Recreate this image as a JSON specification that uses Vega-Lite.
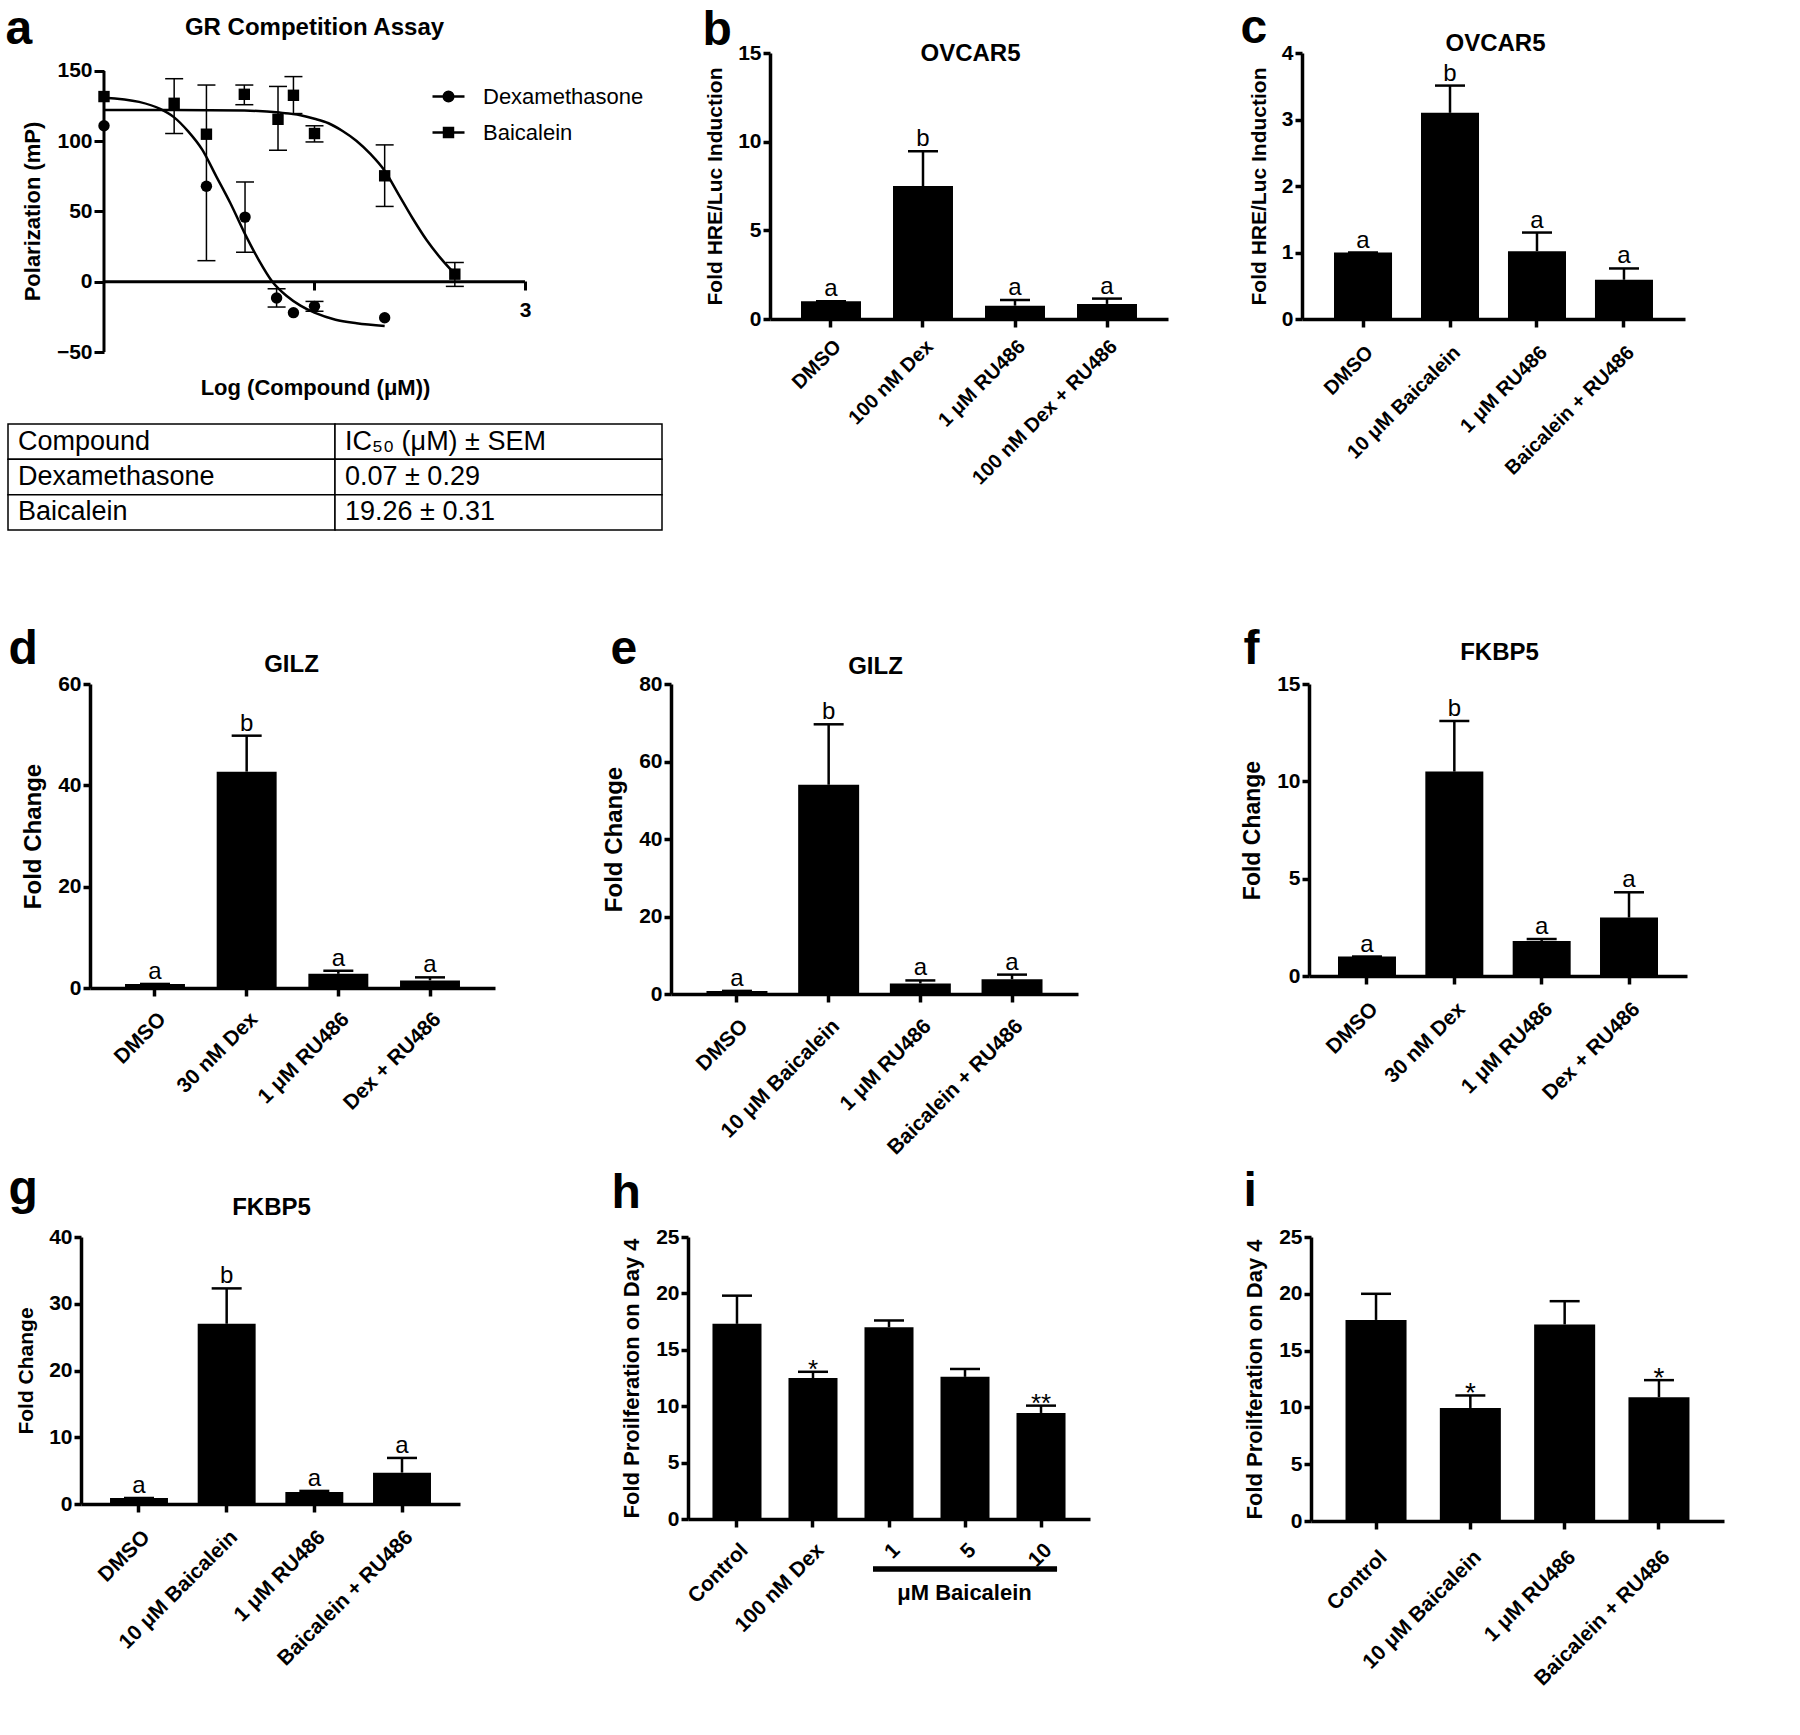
{
"$schema": "https://vega.github.io/schema/vega-lite/v6.json",
"usermeta": {"embedOptions": {"actions": false}},
"background": "white",
"padding": {"left": 5, "top": 4, "right": 5, "bottom": 5},
"config": {
  "font": "Liberation Sans",
  "view": {"stroke": null},
  "axis": {"domainColor": "black", "domainWidth": 3.5, "tickColor": "black", "tickWidth": 3.5, "tickSize": 8, "labelColor": "black", "labelFont": "Liberation Sans", "labelFontWeight": "bold", "labelFontSize": 21, "labelPadding": 3, "labelLimit": 400, "labelOverlap": false, "labelFlush": false, "titleColor": "black", "titleFont": "Liberation Sans", "titleFontWeight": "bold", "titleFontSize": 21, "titlePadding": 12, "grid": false},
  "text": {"font": "Liberation Sans"},
  "legend": {"labelFont": "Liberation Sans", "labelLimit": 400}
},
"datasets": {
  "a_curve": [
    {"compound": "Dexamethasone", "logc": -3, "mp": 131},
    {"compound": "Dexamethasone", "logc": -2.5, "mp": 128},
    {"compound": "Dexamethasone", "logc": -2.2, "mp": 123},
    {"compound": "Dexamethasone", "logc": -2.0, "mp": 117},
    {"compound": "Dexamethasone", "logc": -1.8, "mp": 107},
    {"compound": "Dexamethasone", "logc": -1.6, "mp": 94},
    {"compound": "Dexamethasone", "logc": -1.4, "mp": 75},
    {"compound": "Dexamethasone", "logc": -1.2, "mp": 56},
    {"compound": "Dexamethasone", "logc": -1.0, "mp": 35},
    {"compound": "Dexamethasone", "logc": -0.8, "mp": 16},
    {"compound": "Dexamethasone", "logc": -0.6, "mp": 0},
    {"compound": "Dexamethasone", "logc": -0.4, "mp": -10},
    {"compound": "Dexamethasone", "logc": -0.2, "mp": -17},
    {"compound": "Dexamethasone", "logc": 0.0, "mp": -22},
    {"compound": "Dexamethasone", "logc": 0.3, "mp": -27},
    {"compound": "Dexamethasone", "logc": 0.6, "mp": -29.5},
    {"compound": "Dexamethasone", "logc": 1.0, "mp": -31.5},
    {"compound": "Baicalein", "logc": -3, "mp": 122.3},
    {"compound": "Baicalein", "logc": -2, "mp": 122.2},
    {"compound": "Baicalein", "logc": -1, "mp": 121.8},
    {"compound": "Baicalein", "logc": -0.5, "mp": 120.4},
    {"compound": "Baicalein", "logc": -0.2, "mp": 118.5},
    {"compound": "Baicalein", "logc": 0.0, "mp": 116},
    {"compound": "Baicalein", "logc": 0.2, "mp": 112.8},
    {"compound": "Baicalein", "logc": 0.4, "mp": 107.3},
    {"compound": "Baicalein", "logc": 0.6, "mp": 100.2},
    {"compound": "Baicalein", "logc": 0.8, "mp": 90.8},
    {"compound": "Baicalein", "logc": 1.0, "mp": 79},
    {"compound": "Baicalein", "logc": 1.2, "mp": 62},
    {"compound": "Baicalein", "logc": 1.4, "mp": 45},
    {"compound": "Baicalein", "logc": 1.6, "mp": 29.5},
    {"compound": "Baicalein", "logc": 1.8, "mp": 16.6},
    {"compound": "Baicalein", "logc": 2.0, "mp": 5.5}
  ],
  "a_pts": [
    {"compound": "Dexamethasone", "logc": -3, "mp": 111},
    {"compound": "Dexamethasone", "logc": -1.54, "mp": 68, "lo": 15, "hi": 140},
    {"compound": "Dexamethasone", "logc": -0.99, "mp": 46, "lo": 21, "hi": 71},
    {"compound": "Dexamethasone", "logc": -0.54, "mp": -11.6, "lo": -18, "hi": -5},
    {"compound": "Dexamethasone", "logc": -0.3, "mp": -22},
    {"compound": "Dexamethasone", "logc": 0, "mp": -17.5, "lo": -21, "hi": -14},
    {"compound": "Dexamethasone", "logc": 1, "mp": -25.6},
    {"compound": "Baicalein", "logc": -3, "mp": 131.8},
    {"compound": "Baicalein", "logc": -2, "mp": 127, "lo": 105.5, "hi": 144.5},
    {"compound": "Baicalein", "logc": -1.54, "mp": 105},
    {"compound": "Baicalein", "logc": -1, "mp": 133.4, "lo": 126, "hi": 140},
    {"compound": "Baicalein", "logc": -0.52, "mp": 115.6, "lo": 93.6, "hi": 139},
    {"compound": "Baicalein", "logc": -0.3, "mp": 132.7, "lo": 119.7, "hi": 146},
    {"compound": "Baicalein", "logc": 0, "mp": 105.5, "lo": 99.5, "hi": 111},
    {"compound": "Baicalein", "logc": 1, "mp": 75.4, "lo": 53.6, "hi": 97.4},
    {"compound": "Baicalein", "logc": 2, "mp": 5.4, "lo": -3.3, "hi": 13.7}
  ],
  "tbl": [
    {"r": 1, "c": 1, "t": "Compound"},
    {"r": 1, "c": 2, "t": "IC₅₀ (μM) ± SEM"},
    {"r": 2, "c": 1, "t": "Dexamethasone"},
    {"r": 2, "c": 2, "t": "0.07 ± 0.29"},
    {"r": 3, "c": 1, "t": "Baicalein"},
    {"r": 3, "c": 2, "t": "19.26 ± 0.31"}
  ],
  "b": [
    {"cond": "DMSO", "val": 1.0, "err": 1.0, "sig": "a"},
    {"cond": "100 nM Dex", "val": 7.5, "err": 9.46, "sig": "b"},
    {"cond": "1 μM RU486", "val": 0.75, "err": 1.07, "sig": "a"},
    {"cond": "100 nM Dex + RU486", "val": 0.85, "err": 1.15, "sig": "a"}
  ],
  "c": [
    {"cond": "DMSO", "val": 1.0, "err": 1.0, "sig": "a"},
    {"cond": "10 μM Baicalein", "val": 3.1, "err": 3.51, "sig": "b"},
    {"cond": "1 μM RU486", "val": 1.02, "err": 1.3, "sig": "a"},
    {"cond": "Baicalein + RU486", "val": 0.59, "err": 0.76, "sig": "a"}
  ],
  "d": [
    {"cond": "DMSO", "val": 0.8, "err": 0.8, "sig": "a"},
    {"cond": "30 nM Dex", "val": 42.7, "err": 49.8, "sig": "b"},
    {"cond": "1 μM RU486", "val": 2.8, "err": 3.4, "sig": "a"},
    {"cond": "Dex + RU486", "val": 1.5, "err": 2.1, "sig": "a"}
  ],
  "e": [
    {"cond": "DMSO", "val": 0.8, "err": 0.8, "sig": "a"},
    {"cond": "10 μM Baicalein", "val": 54.0, "err": 69.6, "sig": "b"},
    {"cond": "1 μM RU486", "val": 2.7, "err": 3.5, "sig": "a"},
    {"cond": "Baicalein + RU486", "val": 3.8, "err": 5.0, "sig": "a"}
  ],
  "f": [
    {"cond": "DMSO", "val": 1.0, "err": 1.0, "sig": "a"},
    {"cond": "30 nM Dex", "val": 10.5, "err": 13.1, "sig": "b"},
    {"cond": "1 μM RU486", "val": 1.8, "err": 1.9, "sig": "a"},
    {"cond": "Dex + RU486", "val": 3.0, "err": 4.3, "sig": "a"}
  ],
  "g": [
    {"cond": "DMSO", "val": 0.9, "err": 0.9, "sig": "a"},
    {"cond": "10 μM Baicalein", "val": 27.0, "err": 32.3, "sig": "b"},
    {"cond": "1 μM RU486", "val": 1.8, "err": 1.96, "sig": "a"},
    {"cond": "Baicalein + RU486", "val": 4.7, "err": 6.9, "sig": "a"}
  ],
  "h": [
    {"cond": "Control", "val": 17.3, "err": 19.8, "sig": ""},
    {"cond": "100 nM Dex", "val": 12.5, "err": 13.05, "sig": "*"},
    {"cond": "1", "val": 17.0, "err": 17.6, "sig": ""},
    {"cond": "5", "val": 12.6, "err": 13.3, "sig": ""},
    {"cond": "10", "val": 9.4, "err": 10.05, "sig": "**"}
  ],
  "i": [
    {"cond": "Control", "val": 17.7, "err": 20.0, "sig": ""},
    {"cond": "10 μM Baicalein", "val": 9.95, "err": 11.05, "sig": "*"},
    {"cond": "1 μM RU486", "val": 17.3, "err": 19.35, "sig": ""},
    {"cond": "Baicalein + RU486", "val": 10.9, "err": 12.4, "sig": "*"}
  ]
},
"spacing": 6,
"resolve": {"legend": {"shape": "independent"}},
"vconcat": [
 {
  "spacing": 94,
  "resolve": {"legend": {"shape": "independent"}},
  "vconcat": [
   {
    "spacing": 0, "bounds": "flush",
    "resolve": {"legend": {"shape": "independent"}},
    "hconcat": [
     {
      "spacing": 72, "bounds": "flush",
      "resolve": {"legend": {"shape": "independent"}},
      "vconcat": [
       {
        "width": 517, "height": 299,
        "resolve": {"axis": {"x": "independent"}, "scale": {"shape": "independent"}, "legend": {"shape": "independent"}},
        "layer": [
          {"data": {"name": "a_curve"},
           "mark": {"type": "line", "color": "black", "strokeWidth": 2.5, "interpolate": "monotone"},
           "encoding": {
             "x": {"field": "logc", "type": "quantitative", "scale": {"domain": [-4.368, 3], "nice": false, "zero": false},
                   "axis": {"orient": "bottom", "offset": -71, "domain": false, "values": [0, 3], "labelExpr": "datum.value == 3 ? '3' : ''", "labelAngle": 0, "labelAlign": "center", "labelBaseline": "top", "labelPadding": 9, "labelFontSize": 21, "tickWidth": 3, "tickSize": 9, "title": "Log (Compound (μM))", "titleX": 307, "titleY": 113, "titleBaseline": "alphabetic", "titleAlign": "center", "titleFontSize": 22}},
             "y": {"field": "mp", "type": "quantitative", "scale": {"domain": [-50, 162.8], "nice": false, "zero": false},
                   "axis": {"offset": -96, "values": [-50, 0, 50, 100, 150], "domain": false, "tickSize": 10, "tickWidth": 3, "labelPadding": 2, "labelFontSize": 21, "title": "Polarization (mP)", "titleFontSize": 22, "titleY": 158}},
             "detail": {"field": "compound"}
           }},
          {"data": {"values": [{}]},
           "mark": {"type": "rule", "color": "black", "strokeWidth": 3},
           "encoding": {
             "x": {"datum": -3, "type": "quantitative", "axis": {"orient": "top", "domain": false, "ticks": false, "labels": false, "title": "a", "titleX": -3, "titleY": -10, "titleAlign": "left", "titleBaseline": "alphabetic", "titleAngle": 0, "titleFontSize": 48}},
             "y": {"datum": -50, "type": "quantitative"},
             "y2": {"datum": 150}
           }},
          {"data": {"values": [{}]},
           "mark": {"type": "rule", "color": "black", "strokeWidth": 3},
           "encoding": {
             "x": {"datum": -3, "type": "quantitative", "axis": {"orient": "top", "domain": false, "ticks": false, "labels": false, "title": "GR Competition Assay", "titleX": 306, "titleY": -19, "titleAlign": "center", "titleBaseline": "alphabetic", "titleAngle": 0, "titleFontSize": 24}},
             "x2": {"datum": 3},
             "y": {"datum": 0, "type": "quantitative"}
           }},
          {"data": {"name": "a_pts"},
           "mark": {"type": "rule", "color": "black", "strokeWidth": 1.5},
           "encoding": {
             "x": {"field": "logc", "type": "quantitative", "axis": null},
             "y": {"field": "lo", "type": "quantitative"},
             "y2": {"field": "hi"}
           }},
          {"data": {"name": "a_pts"},
           "mark": {"type": "tick", "orient": "horizontal", "color": "black", "size": 18, "thickness": 1.5, "opacity": 1},
           "encoding": {
             "x": {"field": "logc", "type": "quantitative", "axis": null},
             "y": {"field": "hi", "type": "quantitative"}
           }},
          {"data": {"name": "a_pts"},
           "mark": {"type": "tick", "orient": "horizontal", "color": "black", "size": 18, "thickness": 1.5, "opacity": 1},
           "encoding": {
             "x": {"field": "logc", "type": "quantitative", "axis": null},
             "y": {"field": "lo", "type": "quantitative"}
           }},
          {"data": {"name": "a_pts"},
           "mark": {"type": "point", "filled": true, "opacity": 1, "size": 130, "color": "black"},
           "encoding": {
             "x": {"field": "logc", "type": "quantitative", "axis": null},
             "y": {"field": "mp", "type": "quantitative"},
             "shape": {"field": "compound", "type": "nominal", "scale": {"domain": ["Dexamethasone", "Baicalein"], "range": ["circle", "square"]}, "legend": null}
           }},
          {"data": {"name": "a_pts"},
           "transform": [{"filter": "false"}],
           "mark": {"type": "point", "filled": false, "opacity": 1, "color": "black", "strokeWidth": 2.5},
           "encoding": {
             "x": {"field": "logc", "type": "quantitative", "axis": null},
             "y": {"field": "mp", "type": "quantitative"},
             "shape": {"field": "compound", "type": "nominal",
                       "scale": {"domain": ["Dexamethasone", "Baicalein"], "range": ["M-1,0L1,0M0.3,0A0.3,0.3,0,1,1,-0.3,0A0.3,0.3,0,1,1,0.3,0ZM0.2,0A0.2,0.2,0,1,1,-0.2,0A0.2,0.2,0,1,1,0.2,0ZM0.1,0A0.1,0.1,0,1,1,-0.1,0A0.1,0.1,0,1,1,0.1,0Z", "M-1,0L1,0M-0.28,-0.28L0.28,-0.28L0.28,0.28L-0.28,0.28ZM-0.18,-0.18L0.18,-0.18L0.18,0.18L-0.18,0.18ZM-0.08,-0.08L0.08,-0.08L0.08,0.08L-0.08,0.08Z"]},
                       "legend": {"orient": "none", "legendX": 423, "legendY": 26, "title": null, "padding": 0, "symbolSize": 1024, "symbolStrokeColor": "black", "symbolStrokeWidth": 2.5, "symbolOpacity": 1, "rowPadding": 7, "labelFontSize": 22, "labelFontWeight": "normal", "labelColor": "black", "labelOffset": 17, "labelLimit": 400}}
           }}
        ]
       },
       {
        "width": 654, "height": 106, "data": {"name": "tbl"},
        "layer": [
          {"mark": {"type": "rect", "fill": "white", "stroke": "black", "strokeWidth": 1.5},
           "encoding": {
             "x": {"field": "c", "type": "ordinal", "axis": null, "scale": {"type": "band", "paddingInner": 0, "paddingOuter": 0}},
             "y": {"field": "r", "type": "ordinal", "axis": null, "scale": {"type": "band", "paddingInner": 0, "paddingOuter": 0}}}},
          {"mark": {"type": "text", "align": "left", "baseline": "middle", "dx": 10, "fontSize": 27, "color": "black"},
           "encoding": {
             "x": {"field": "c", "type": "ordinal", "bandPosition": 0, "axis": null, "scale": {"type": "band", "paddingInner": 0, "paddingOuter": 0}},
             "y": {"field": "r", "type": "ordinal", "axis": null, "scale": {"type": "band", "paddingInner": 0, "paddingOuter": 0}},
             "text": {"field": "t"}}}
        ]
       }
      ]
     },
     {"width": 762, "height": 1, "data": {"values": []}, "mark": {"type": "point", "opacity": 0}, "encoding": {}},
     {
      "width": 398, "height": 266, "data": {"name": "b"},
      "resolve": {"axis": {"x": "independent"}},
      "layer": [
        {"mark": {"type": "bar", "color": "black"},
         "encoding": {
           "x": {"field": "cond", "type": "nominal", "sort": null, "scale": {"paddingInner": 0.348, "paddingOuter": 0.337}, "axis": {"title": null, "labelAngle": -45, "labelAlign": "right", "labelBaseline": "top", "labelFontSize": 20, "labelPadding": 9}},
           "y": {"field": "val", "type": "quantitative", "scale": {"domain": [0, 15], "nice": false}, "axis": {"values": [0, 5, 10, 15], "title": "Fold HRE/Luc Induction", "titleFontSize": 21, "tickSize": 7, "labelPadding": 2}}}},
        {"mark": {"type": "rule", "color": "black", "strokeWidth": 2.5},
         "encoding": {
           "x": {"field": "cond", "type": "nominal", "sort": null, "scale": {"paddingInner": 0.348, "paddingOuter": 0.337}, "axis": {"orient": "top", "domain": false, "ticks": false, "labels": false, "title": "b", "titleX": -68, "titleY": -9, "titleAlign": "left", "titleBaseline": "alphabetic", "titleAngle": 0, "titleFontSize": 48}},
           "y": {"field": "val", "type": "quantitative", "scale": {"domain": [0, 15], "nice": false}},
           "y2": {"field": "err"}}},
        {"mark": {"type": "tick", "orient": "horizontal", "color": "black", "size": 30, "thickness": 2.5, "opacity": 1},
         "encoding": {
           "x": {"field": "cond", "type": "nominal", "sort": null, "scale": {"paddingInner": 0.348, "paddingOuter": 0.337}, "axis": {"orient": "top", "domain": false, "ticks": false, "labels": false, "title": "OVCAR5", "titleX": 200, "titleY": 7, "titleAlign": "center", "titleBaseline": "alphabetic", "titleAngle": 0, "titleFontSize": 24}},
           "y": {"field": "err", "type": "quantitative", "scale": {"domain": [0, 15], "nice": false}}}},
        {"mark": {"type": "text", "fontSize": 24, "dy": -5, "baseline": "alphabetic", "color": "black"},
         "encoding": {
           "x": {"field": "cond", "type": "nominal", "sort": null, "scale": {"paddingInner": 0.348, "paddingOuter": 0.337}, "axis": null},
           "y": {"field": "err", "type": "quantitative", "scale": {"domain": [0, 15], "nice": false}},
           "text": {"field": "sig"}}}
      ]
     },
     {"width": 134, "height": 1, "data": {"values": []}, "mark": {"type": "point", "opacity": 0}, "encoding": {}},
     {
      "width": 383, "height": 266, "data": {"name": "c"},
      "resolve": {"axis": {"x": "independent"}},
      "layer": [
        {"mark": {"type": "bar", "color": "black"},
         "encoding": {
           "x": {"field": "cond", "type": "nominal", "sort": null, "scale": {"paddingInner": 0.333, "paddingOuter": 0.368}, "axis": {"title": null, "labelAngle": -45, "labelAlign": "right", "labelBaseline": "top", "labelFontSize": 20, "labelPadding": 15}},
           "y": {"field": "val", "type": "quantitative", "scale": {"domain": [0, 4], "nice": false}, "axis": {"values": [0, 1, 2, 3, 4], "format": "d", "title": "Fold HRE/Luc Induction", "titleFontSize": 21, "tickSize": 7, "labelPadding": 2}}}},
        {"mark": {"type": "rule", "color": "black", "strokeWidth": 2.5},
         "encoding": {
           "x": {"field": "cond", "type": "nominal", "sort": null, "scale": {"paddingInner": 0.333, "paddingOuter": 0.368}, "axis": {"orient": "top", "domain": false, "ticks": false, "labels": false, "title": "c", "titleX": -62, "titleY": -11, "titleAlign": "left", "titleBaseline": "alphabetic", "titleAngle": 0, "titleFontSize": 48}},
           "y": {"field": "val", "type": "quantitative", "scale": {"domain": [0, 4], "nice": false}},
           "y2": {"field": "err"}}},
        {"mark": {"type": "tick", "orient": "horizontal", "color": "black", "size": 30, "thickness": 2.5, "opacity": 1},
         "encoding": {
           "x": {"field": "cond", "type": "nominal", "sort": null, "scale": {"paddingInner": 0.333, "paddingOuter": 0.368}, "axis": {"orient": "top", "domain": false, "ticks": false, "labels": false, "title": "OVCAR5", "titleX": 193, "titleY": -3, "titleAlign": "center", "titleBaseline": "alphabetic", "titleAngle": 0, "titleFontSize": 24}},
           "y": {"field": "err", "type": "quantitative", "scale": {"domain": [0, 4], "nice": false}}}},
        {"mark": {"type": "text", "fontSize": 24, "dy": -5, "baseline": "alphabetic", "color": "black"},
         "encoding": {
           "x": {"field": "cond", "type": "nominal", "sort": null, "scale": {"paddingInner": 0.333, "paddingOuter": 0.368}, "axis": null},
           "y": {"field": "err", "type": "quantitative", "scale": {"domain": [0, 4], "nice": false}},
           "text": {"field": "sig"}}}
      ]
     }
    ]
   },
   {
    "spacing": 0, "bounds": "flush",
    "hconcat": [
     {"width": 82, "height": 1, "data": {"values": []}, "mark": {"type": "point", "opacity": 0}, "encoding": {}},
     {
      "width": 405, "height": 304, "data": {"name": "d"},
      "resolve": {"axis": {"x": "independent"}},
      "layer": [
        {"mark": {"type": "bar", "color": "black"},
         "encoding": {
           "x": {"field": "cond", "type": "nominal", "sort": null, "scale": {"paddingInner": 0.346, "paddingOuter": 0.382}, "axis": {"title": null, "labelAngle": -45, "labelAlign": "right", "labelBaseline": "top", "labelFontSize": 21, "labelPadding": 12}},
           "y": {"field": "val", "type": "quantitative", "scale": {"domain": [0, 60], "nice": false}, "axis": {"values": [0, 20, 40, 60], "title": "Fold Change", "titleFontSize": 24, "tickSize": 7, "labelPadding": 2}}}},
        {"mark": {"type": "rule", "color": "black", "strokeWidth": 2.5},
         "encoding": {
           "x": {"field": "cond", "type": "nominal", "sort": null, "scale": {"paddingInner": 0.346, "paddingOuter": 0.382}, "axis": {"orient": "top", "domain": false, "ticks": false, "labels": false, "title": "d", "titleX": -82, "titleY": -21, "titleAlign": "left", "titleBaseline": "alphabetic", "titleAngle": 0, "titleFontSize": 48}},
           "y": {"field": "val", "type": "quantitative", "scale": {"domain": [0, 60], "nice": false}},
           "y2": {"field": "err"}}},
        {"mark": {"type": "tick", "orient": "horizontal", "color": "black", "size": 30, "thickness": 2.5, "opacity": 1},
         "encoding": {
           "x": {"field": "cond", "type": "nominal", "sort": null, "scale": {"paddingInner": 0.346, "paddingOuter": 0.382}, "axis": {"orient": "top", "domain": false, "ticks": false, "labels": false, "title": "GILZ", "titleX": 201, "titleY": -13, "titleAlign": "center", "titleBaseline": "alphabetic", "titleAngle": 0, "titleFontSize": 24}},
           "y": {"field": "err", "type": "quantitative", "scale": {"domain": [0, 60], "nice": false}}}},
        {"mark": {"type": "text", "fontSize": 24, "dy": -5, "baseline": "alphabetic", "color": "black"},
         "encoding": {
           "x": {"field": "cond", "type": "nominal", "sort": null, "scale": {"paddingInner": 0.346, "paddingOuter": 0.382}, "axis": null},
           "y": {"field": "err", "type": "quantitative", "scale": {"domain": [0, 60], "nice": false}},
           "text": {"field": "sig"}}}
      ]
     },
     {"width": 176, "height": 1, "data": {"values": []}, "mark": {"type": "point", "opacity": 0}, "encoding": {}},
     {
      "width": 407, "height": 310, "data": {"name": "e"},
      "resolve": {"axis": {"x": "independent"}},
      "layer": [
        {"mark": {"type": "bar", "color": "black"},
         "encoding": {
           "x": {"field": "cond", "type": "nominal", "sort": null, "scale": {"paddingInner": 0.335, "paddingOuter": 0.387}, "axis": {"title": null, "labelAngle": -45, "labelAlign": "right", "labelBaseline": "top", "labelFontSize": 21, "labelPadding": 13}},
           "y": {"field": "val", "type": "quantitative", "scale": {"domain": [0, 80], "nice": false}, "axis": {"values": [0, 20, 40, 60, 80], "title": "Fold Change", "titleFontSize": 24, "tickSize": 7, "labelPadding": 2}}}},
        {"mark": {"type": "rule", "color": "black", "strokeWidth": 2.5},
         "encoding": {
           "x": {"field": "cond", "type": "nominal", "sort": null, "scale": {"paddingInner": 0.335, "paddingOuter": 0.387}, "axis": {"orient": "top", "domain": false, "ticks": false, "labels": false, "title": "e", "titleX": -61, "titleY": -21, "titleAlign": "left", "titleBaseline": "alphabetic", "titleAngle": 0, "titleFontSize": 48}},
           "y": {"field": "val", "type": "quantitative", "scale": {"domain": [0, 80], "nice": false}},
           "y2": {"field": "err"}}},
        {"mark": {"type": "tick", "orient": "horizontal", "color": "black", "size": 30, "thickness": 2.5, "opacity": 1},
         "encoding": {
           "x": {"field": "cond", "type": "nominal", "sort": null, "scale": {"paddingInner": 0.335, "paddingOuter": 0.387}, "axis": {"orient": "top", "domain": false, "ticks": false, "labels": false, "title": "GILZ", "titleX": 204, "titleY": -11, "titleAlign": "center", "titleBaseline": "alphabetic", "titleAngle": 0, "titleFontSize": 24}},
           "y": {"field": "err", "type": "quantitative", "scale": {"domain": [0, 80], "nice": false}}}},
        {"mark": {"type": "text", "fontSize": 24, "dy": -5, "baseline": "alphabetic", "color": "black"},
         "encoding": {
           "x": {"field": "cond", "type": "nominal", "sort": null, "scale": {"paddingInner": 0.335, "paddingOuter": 0.387}, "axis": null},
           "y": {"field": "err", "type": "quantitative", "scale": {"domain": [0, 80], "nice": false}},
           "text": {"field": "sig"}}}
      ]
     },
     {"width": 231, "height": 1, "data": {"values": []}, "mark": {"type": "point", "opacity": 0}, "encoding": {}},
     {
      "width": 378, "height": 292, "data": {"name": "f"},
      "resolve": {"axis": {"x": "independent"}},
      "layer": [
        {"mark": {"type": "bar", "color": "black"},
         "encoding": {
           "x": {"field": "cond", "type": "nominal", "sort": null, "scale": {"paddingInner": 0.336, "paddingOuter": 0.332}, "axis": {"title": null, "labelAngle": -45, "labelAlign": "right", "labelBaseline": "top", "labelFontSize": 21, "labelPadding": 14}},
           "y": {"field": "val", "type": "quantitative", "scale": {"domain": [0, 15], "nice": false}, "axis": {"values": [0, 5, 10, 15], "title": "Fold Change", "titleFontSize": 23, "tickSize": 7, "labelPadding": 2}}}},
        {"mark": {"type": "rule", "color": "black", "strokeWidth": 2.5},
         "encoding": {
           "x": {"field": "cond", "type": "nominal", "sort": null, "scale": {"paddingInner": 0.336, "paddingOuter": 0.332}, "axis": {"orient": "top", "domain": false, "ticks": false, "labels": false, "title": "f", "titleX": -66, "titleY": -21, "titleAlign": "left", "titleBaseline": "alphabetic", "titleAngle": 0, "titleFontSize": 48}},
           "y": {"field": "val", "type": "quantitative", "scale": {"domain": [0, 15], "nice": false}},
           "y2": {"field": "err"}}},
        {"mark": {"type": "tick", "orient": "horizontal", "color": "black", "size": 30, "thickness": 2.5, "opacity": 1},
         "encoding": {
           "x": {"field": "cond", "type": "nominal", "sort": null, "scale": {"paddingInner": 0.336, "paddingOuter": 0.332}, "axis": {"orient": "top", "domain": false, "ticks": false, "labels": false, "title": "FKBP5", "titleX": 190, "titleY": -25, "titleAlign": "center", "titleBaseline": "alphabetic", "titleAngle": 0, "titleFontSize": 24}},
           "y": {"field": "err", "type": "quantitative", "scale": {"domain": [0, 15], "nice": false}}}},
        {"mark": {"type": "text", "fontSize": 24, "dy": -5, "baseline": "alphabetic", "color": "black"},
         "encoding": {
           "x": {"field": "cond", "type": "nominal", "sort": null, "scale": {"paddingInner": 0.336, "paddingOuter": 0.332}, "axis": null},
           "y": {"field": "err", "type": "quantitative", "scale": {"domain": [0, 15], "nice": false}},
           "text": {"field": "sig"}}}
      ]
     }
    ]
   }
  ]
 },
 {
  "spacing": 0, "bounds": "flush",
  "hconcat": [
   {"width": 73, "height": 1, "data": {"values": []}, "mark": {"type": "point", "opacity": 0}, "encoding": {}},
   {
    "width": 379, "height": 267, "data": {"name": "g"},
    "resolve": {"axis": {"x": "independent"}},
    "layer": [
      {"mark": {"type": "bar", "color": "black"},
       "encoding": {
         "x": {"field": "cond", "type": "nominal", "sort": null, "scale": {"paddingInner": 0.339, "paddingOuter": 0.331}, "axis": {"title": null, "labelAngle": -45, "labelAlign": "right", "labelBaseline": "top", "labelFontSize": 21, "labelPadding": 14}},
         "y": {"field": "val", "type": "quantitative", "scale": {"domain": [0, 40], "nice": false}, "axis": {"values": [0, 10, 20, 30, 40], "title": "Fold Change", "titleFontSize": 21, "tickSize": 7, "labelPadding": 2}}}},
      {"mark": {"type": "rule", "color": "black", "strokeWidth": 2.5},
       "encoding": {
         "x": {"field": "cond", "type": "nominal", "sort": null, "scale": {"paddingInner": 0.339, "paddingOuter": 0.331}, "axis": {"orient": "top", "domain": false, "ticks": false, "labels": false, "title": "g", "titleX": -73, "titleY": -34, "titleAlign": "left", "titleBaseline": "alphabetic", "titleAngle": 0, "titleFontSize": 48}},
         "y": {"field": "val", "type": "quantitative", "scale": {"domain": [0, 40], "nice": false}},
         "y2": {"field": "err"}}},
      {"mark": {"type": "tick", "orient": "horizontal", "color": "black", "size": 30, "thickness": 2.5, "opacity": 1},
       "encoding": {
         "x": {"field": "cond", "type": "nominal", "sort": null, "scale": {"paddingInner": 0.339, "paddingOuter": 0.331}, "axis": {"orient": "top", "domain": false, "ticks": false, "labels": false, "title": "FKBP5", "titleX": 190, "titleY": -23, "titleAlign": "center", "titleBaseline": "alphabetic", "titleAngle": 0, "titleFontSize": 24}},
         "y": {"field": "err", "type": "quantitative", "scale": {"domain": [0, 40], "nice": false}}}},
      {"mark": {"type": "text", "fontSize": 24, "dy": -5, "baseline": "alphabetic", "color": "black"},
       "encoding": {
         "x": {"field": "cond", "type": "nominal", "sort": null, "scale": {"paddingInner": 0.339, "paddingOuter": 0.331}, "axis": null},
         "y": {"field": "err", "type": "quantitative", "scale": {"domain": [0, 40], "nice": false}},
         "text": {"field": "sig"}}}
    ]
   },
   {"width": 228, "height": 1, "data": {"values": []}, "mark": {"type": "point", "opacity": 0}, "encoding": {}},
   {
    "width": 402, "height": 282, "data": {"name": "h"},
    "resolve": {"axis": {"x": "independent"}},
    "layer": [
      {"mark": {"type": "bar", "color": "black"},
       "encoding": {
         "x": {"field": "cond", "type": "nominal", "sort": null, "scale": {"paddingInner": 0.355, "paddingOuter": 0.322}, "axis": {"labelAngle": -45, "labelAlign": "right", "labelBaseline": "top", "labelFontSize": 21, "labelPadding": 12, "title": "μM Baicalein", "titleX": 276, "titleY": 80, "titleAlign": "center", "titleBaseline": "alphabetic", "titleAngle": 0, "titleFontSize": 22}},
         "y": {"field": "val", "type": "quantitative", "scale": {"domain": [0, 25], "nice": false}, "axis": {"values": [0, 5, 10, 15, 20, 25], "title": "Fold Proilferation on Day 4", "titleFontSize": 22, "tickSize": 7, "labelPadding": 2}}}},
      {"mark": {"type": "rule", "color": "black", "strokeWidth": 2.5},
       "encoding": {
         "x": {"field": "cond", "type": "nominal", "sort": null, "scale": {"paddingInner": 0.355, "paddingOuter": 0.322}, "axis": {"orient": "top", "domain": false, "ticks": false, "labels": false, "title": "h", "titleX": -77, "titleY": -30, "titleAlign": "left", "titleBaseline": "alphabetic", "titleAngle": 0, "titleFontSize": 48}},
         "y": {"field": "val", "type": "quantitative", "scale": {"domain": [0, 25], "nice": false}},
         "y2": {"field": "err"}}},
      {"mark": {"type": "tick", "orient": "horizontal", "color": "black", "size": 30, "thickness": 2.5, "opacity": 1},
       "encoding": {
         "x": {"field": "cond", "type": "nominal", "sort": null, "scale": {"paddingInner": 0.355, "paddingOuter": 0.322}, "axis": null},
         "y": {"field": "err", "type": "quantitative", "scale": {"domain": [0, 25], "nice": false}}}},
      {"mark": {"type": "text", "fontSize": 26, "dy": 6, "baseline": "alphabetic", "color": "black"},
       "encoding": {
         "x": {"field": "cond", "type": "nominal", "sort": null, "scale": {"paddingInner": 0.355, "paddingOuter": 0.322}, "axis": null},
         "y": {"field": "err", "type": "quantitative", "scale": {"domain": [0, 25], "nice": false}},
         "text": {"field": "sig"}}},
      {"mark": {"type": "rule", "color": "black", "strokeWidth": 4.5, "xOffset": -16, "x2Offset": 16, "yOffset": 50},
       "encoding": {
         "x": {"datum": "1", "type": "nominal", "axis": null},
         "x2": {"datum": "10"},
         "y": {"datum": 0, "type": "quantitative"}}}
    ]
   },
   {"width": 221, "height": 1, "data": {"values": []}, "mark": {"type": "point", "opacity": 0}, "encoding": {}},
   {
    "width": 413, "height": 284, "data": {"name": "i"},
    "resolve": {"axis": {"x": "independent"}},
    "layer": [
      {"mark": {"type": "bar", "color": "black"},
       "encoding": {
         "x": {"field": "cond", "type": "nominal", "sort": null, "scale": {"paddingInner": 0.353, "paddingOuter": 0.366}, "axis": {"title": null, "labelAngle": -45, "labelAlign": "right", "labelBaseline": "top", "labelFontSize": 21, "labelPadding": 17}},
         "y": {"field": "val", "type": "quantitative", "scale": {"domain": [0, 25], "nice": false}, "axis": {"values": [0, 5, 10, 15, 20, 25], "title": "Fold Proilferation on Day 4", "titleFontSize": 22, "tickSize": 7, "labelPadding": 2}}}},
      {"mark": {"type": "rule", "color": "black", "strokeWidth": 2.5},
       "encoding": {
         "x": {"field": "cond", "type": "nominal", "sort": null, "scale": {"paddingInner": 0.353, "paddingOuter": 0.366}, "axis": {"orient": "top", "domain": false, "ticks": false, "labels": false, "title": "i", "titleX": -68, "titleY": -32, "titleAlign": "left", "titleBaseline": "alphabetic", "titleAngle": 0, "titleFontSize": 48}},
         "y": {"field": "val", "type": "quantitative", "scale": {"domain": [0, 25], "nice": false}},
         "y2": {"field": "err"}}},
      {"mark": {"type": "tick", "orient": "horizontal", "color": "black", "size": 30, "thickness": 2.5, "opacity": 1},
       "encoding": {
         "x": {"field": "cond", "type": "nominal", "sort": null, "scale": {"paddingInner": 0.353, "paddingOuter": 0.366}, "axis": null},
         "y": {"field": "err", "type": "quantitative", "scale": {"domain": [0, 25], "nice": false}}}},
      {"mark": {"type": "text", "fontSize": 28, "dy": 7, "baseline": "alphabetic", "color": "black"},
       "encoding": {
         "x": {"field": "cond", "type": "nominal", "sort": null, "scale": {"paddingInner": 0.353, "paddingOuter": 0.366}, "axis": null},
         "y": {"field": "err", "type": "quantitative", "scale": {"domain": [0, 25], "nice": false}},
         "text": {"field": "sig"}}}
    ]
   }
  ]
 }
]
}
